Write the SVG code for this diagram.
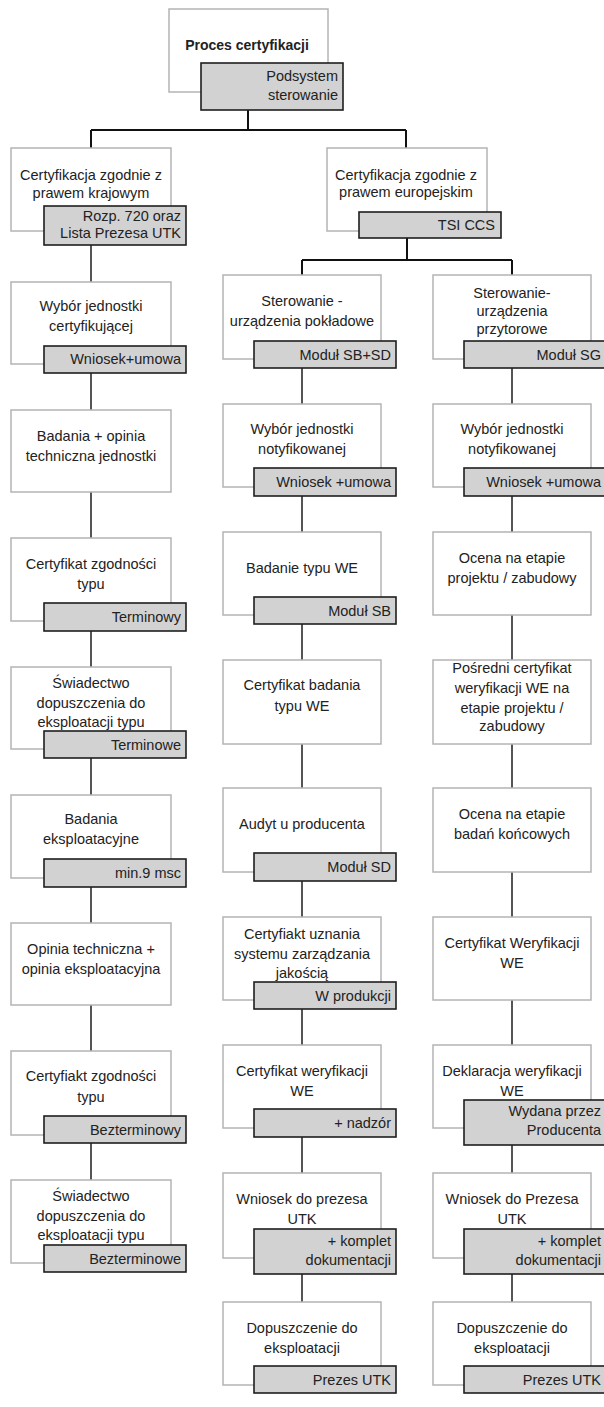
<svg xmlns="http://www.w3.org/2000/svg" width="604" height="1407" viewBox="0 0 604 1407">
<style>
.w{fill:#fff;stroke:#b4b4b4;stroke-width:1.5}
.g{fill:#d2d2d2;stroke:#1e1e1e;stroke-width:1.6}
.t{font-family:"Liberation Sans",Arial,sans-serif;font-size:14.5px;fill:#222;text-anchor:middle}
.r{font-family:"Liberation Sans",Arial,sans-serif;font-size:14.5px;fill:#222;text-anchor:end}
.b{font-weight:bold;font-size:14px}
.c{stroke:#555;stroke-width:2;fill:none}
.k{stroke:#111;stroke-width:2;fill:none}
</style>
<rect width="604" height="1407" fill="#fff"/>
<g id="connectors">
<path class="k" d="M248 110V130M91 130H406M91 130V148M406 130V148M407 238V260M302 260H512M302 260V275M512 260V275"/>
<path class="c" d="M91 245V282M91 373V410M91 492V538M91 631V667M91 758V795M91 887V923M91 1005V1051M91 1143V1180"/>
<path class="c" d="M302 368V404M302 496V532M302 624V660M302 744V788M302 881V917M302 1009V1045M302 1137V1173M302 1274V1302"/>
<path class="c" d="M512 368V404M512 496V532M512 615V660M512 744V788M512 872V917M512 1000V1045M512 1145V1173M512 1274V1302"/>
</g>
<g id="n-top">
<rect class="w" x="169" y="9" width="159" height="83"/>
<text class="t b" x="247" y="50">Proces certyfikacji</text>
<rect class="g" x="201" y="63" width="142" height="47"/>
<text class="r" x="338" y="81">Podsystem</text>
<text class="r" x="338" y="100">sterowanie</text>
</g>
<g id="n-krajowy">
<rect class="w" x="11" y="148" width="160" height="83"/>
<text class="t" x="91" y="180">Certyfikacja zgodnie z</text>
<text class="t" x="91" y="198">prawem krajowym</text>
<rect class="g" x="44" y="206" width="142" height="39"/>
<text class="r" x="181" y="221">Rozp. 720 oraz</text>
<text class="r" x="181" y="238">Lista Prezesa UTK</text>
</g>
<g id="n-europejski">
<rect class="w" x="327" y="148" width="160" height="83"/>
<text class="t" x="406" y="180">Certyfikacja zgodnie z</text>
<text class="t" x="406" y="197">prawem europejskim</text>
<rect class="g" x="359" y="212" width="142" height="26"/>
<text class="r" x="495" y="230">TSI CCS</text>
</g>
<g id="l2">
<rect class="w" x="11" y="282" width="160" height="82"/>
<text class="t" x="91" y="311">Wybór jednostki</text>
<text class="t" x="91" y="331">certyfikującej</text>
<rect class="g" x="44" y="346" width="142" height="27"/>
<text class="r" x="181" y="364">Wniosek+umowa</text>
</g>
<g id="l3">
<rect class="w" x="11" y="410" width="160" height="82"/>
<text class="t" x="91" y="441">Badania + opinia</text>
<text class="t" x="91" y="461">techniczna jednostki</text>
</g>
<g id="l4">
<rect class="w" x="11" y="538" width="160" height="83"/>
<text class="t" x="91" y="569">Certyfikat zgodności</text>
<text class="t" x="91" y="589">typu</text>
<rect class="g" x="44" y="603" width="142" height="28"/>
<text class="r" x="181" y="622">Terminowy</text>
</g>
<g id="l5">
<rect class="w" x="11" y="667" width="160" height="82"/>
<text class="t" x="91" y="688">Świadectwo</text>
<text class="t" x="91" y="708">dopuszczenia do</text>
<text class="t" x="91" y="727">eksploatacji typu</text>
<rect class="g" x="44" y="731" width="142" height="27"/>
<text class="r" x="181" y="750">Terminowe</text>
</g>
<g id="l6">
<rect class="w" x="11" y="795" width="160" height="83"/>
<text class="t" x="91" y="824">Badania</text>
<text class="t" x="91" y="844">eksploatacyjne</text>
<rect class="g" x="44" y="859" width="142" height="28"/>
<text class="r" x="181" y="878">min.9 msc</text>
</g>
<g id="l7">
<rect class="w" x="11" y="923" width="160" height="82"/>
<text class="t" x="91" y="954">Opinia techniczna +</text>
<text class="t" x="91" y="974">opinia eksploatacyjna</text>
</g>
<g id="l8">
<rect class="w" x="11" y="1051" width="160" height="84"/>
<text class="t" x="91" y="1081">Certyfiakt zgodności</text>
<text class="t" x="91" y="1102">typu</text>
<rect class="g" x="44" y="1116" width="142" height="27"/>
<text class="r" x="181" y="1135">Bezterminowy</text>
</g>
<g id="l9">
<rect class="w" x="11" y="1180" width="160" height="83"/>
<text class="t" x="91" y="1201">Świadectwo</text>
<text class="t" x="91" y="1221">dopuszczenia do</text>
<text class="t" x="91" y="1240">eksploatacji typu</text>
<rect class="g" x="44" y="1245" width="142" height="27"/>
<text class="r" x="181" y="1264">Bezterminowe</text>
</g>
<g id="m1">
<rect class="w" x="223" y="275" width="158" height="84"/>
<text class="t" x="302" y="306">Sterowanie -</text>
<text class="t" x="302" y="326">urządzenia pokładowe</text>
<rect class="g" x="254" y="341" width="142" height="27"/>
<text class="r" x="391" y="360">Moduł SB+SD</text>
</g>
<g id="m2">
<rect class="w" x="223" y="404" width="158" height="83"/>
<text class="t" x="302" y="434">Wybór jednostki</text>
<text class="t" x="302" y="454">notyfikowanej</text>
<rect class="g" x="254" y="468" width="142" height="28"/>
<text class="r" x="391" y="487">Wniosek +umowa</text>
</g>
<g id="m3">
<rect class="w" x="223" y="532" width="158" height="83"/>
<text class="t" x="302" y="573">Badanie typu WE</text>
<rect class="g" x="254" y="597" width="142" height="27"/>
<text class="r" x="391" y="616">Moduł SB</text>
</g>
<g id="m4">
<rect class="w" x="223" y="660" width="158" height="84"/>
<text class="t" x="302" y="690">Certyfikat badania</text>
<text class="t" x="302" y="711">typu WE</text>
</g>
<g id="m5">
<rect class="w" x="223" y="788" width="158" height="84"/>
<text class="t" x="302" y="829">Audyt u producenta</text>
<rect class="g" x="254" y="853" width="142" height="28"/>
<text class="r" x="391" y="872">Moduł SD</text>
</g>
<g id="m6">
<rect class="w" x="223" y="917" width="158" height="83"/>
<text class="t" x="302" y="939">Certyfiakt uznania</text>
<text class="t" x="302" y="959">systemu zarządzania</text>
<text class="t" x="302" y="978">jakością</text>
<rect class="g" x="254" y="982" width="142" height="27"/>
<text class="r" x="391" y="1001">W produkcji</text>
</g>
<g id="m7">
<rect class="w" x="223" y="1045" width="158" height="83"/>
<text class="t" x="302" y="1076">Certyfikat weryfikacji</text>
<text class="t" x="302" y="1096">WE</text>
<rect class="g" x="254" y="1109" width="142" height="28"/>
<text class="r" x="391" y="1128">+ nadzór</text>
</g>
<g id="m8">
<rect class="w" x="223" y="1173" width="158" height="85"/>
<text class="t" x="302" y="1204">Wniosek do prezesa</text>
<text class="t" x="302" y="1224">UTK</text>
<rect class="g" x="254" y="1229" width="142" height="45"/>
<text class="r" x="391" y="1246">+ komplet</text>
<text class="r" x="391" y="1265">dokumentacji</text>
</g>
<g id="m9">
<rect class="w" x="223" y="1302" width="158" height="83"/>
<text class="t" x="302" y="1333">Dopuszczenie do</text>
<text class="t" x="302" y="1353">eksploatacji</text>
<rect class="g" x="254" y="1366" width="142" height="27"/>
<text class="r" x="391" y="1385">Prezes UTK</text>
</g>
<g id="r1">
<rect class="w" x="433" y="275" width="158" height="84"/>
<text class="t" x="512" y="298">Sterowanie-</text>
<text class="t" x="512" y="316">urządzenia</text>
<text class="t" x="512" y="334">przytorowe</text>
<rect class="g" x="464" y="341" width="142" height="27"/>
<text class="r" x="601" y="360">Moduł SG</text>
</g>
<g id="r2">
<rect class="w" x="433" y="404" width="158" height="83"/>
<text class="t" x="512" y="434">Wybór jednostki</text>
<text class="t" x="512" y="454">notyfikowanej</text>
<rect class="g" x="464" y="468" width="142" height="28"/>
<text class="r" x="601" y="487">Wniosek +umowa</text>
</g>
<g id="r3">
<rect class="w" x="433" y="532" width="158" height="83"/>
<text class="t" x="512" y="563">Ocena na etapie</text>
<text class="t" x="512" y="583">projektu / zabudowy</text>
</g>
<g id="r4">
<rect class="w" x="433" y="660" width="158" height="84"/>
<text class="t" x="512" y="673">Pośredni certyfikat</text>
<text class="t" x="512" y="693">weryfikacji WE na</text>
<text class="t" x="512" y="713">etapie projektu /</text>
<text class="t" x="512" y="731">zabudowy</text>
</g>
<g id="r5">
<rect class="w" x="433" y="788" width="158" height="84"/>
<text class="t" x="512" y="819">Ocena na etapie</text>
<text class="t" x="512" y="839">badań końcowych</text>
</g>
<g id="r6">
<rect class="w" x="433" y="917" width="158" height="83"/>
<text class="t" x="512" y="948">Certyfikat Weryfikacji</text>
<text class="t" x="512" y="968">WE</text>
</g>
<g id="r7">
<rect class="w" x="433" y="1045" width="158" height="83"/>
<text class="t" x="512" y="1076">Deklaracja weryfikacji</text>
<text class="t" x="512" y="1096">WE</text>
<rect class="g" x="464" y="1100" width="142" height="45"/>
<text class="r" x="601" y="1116">Wydana przez</text>
<text class="r" x="601" y="1135">Producenta</text>
</g>
<g id="r8">
<rect class="w" x="433" y="1173" width="158" height="85"/>
<text class="t" x="512" y="1204">Wniosek do Prezesa</text>
<text class="t" x="512" y="1224">UTK</text>
<rect class="g" x="464" y="1229" width="142" height="45"/>
<text class="r" x="601" y="1246">+ komplet</text>
<text class="r" x="601" y="1265">dokumentacji</text>
</g>
<g id="r9">
<rect class="w" x="433" y="1302" width="158" height="83"/>
<text class="t" x="512" y="1333">Dopuszczenie do</text>
<text class="t" x="512" y="1353">eksploatacji</text>
<rect class="g" x="464" y="1366" width="142" height="27"/>
<text class="r" x="601" y="1385">Prezes UTK</text>
</g>
</svg>
